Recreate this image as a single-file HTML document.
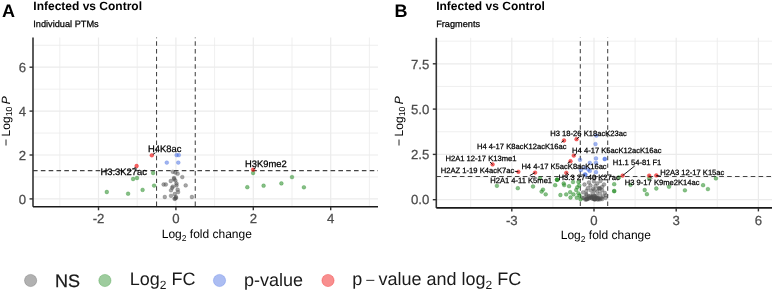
<!DOCTYPE html>
<html><head><meta charset="utf-8"><style>
html,body{margin:0;padding:0;background:#fff;width:774px;height:293px;overflow:hidden}
svg{display:block;will-change:transform;text-rendering:geometricPrecision;font-family:"Liberation Sans", sans-serif}
</style></head><body>
<svg width="774" height="293" viewBox="0 0 774 293" font-family='"Liberation Sans", sans-serif'>
<rect width="774" height="293" fill="#fff"/>
<line x1="59.8" y1="37.5" x2="59.8" y2="206.8" stroke="#ebebeb" stroke-width="0.8"/>
<line x1="137.2" y1="37.5" x2="137.2" y2="206.8" stroke="#ebebeb" stroke-width="0.8"/>
<line x1="214.60000000000002" y1="37.5" x2="214.60000000000002" y2="206.8" stroke="#ebebeb" stroke-width="0.8"/>
<line x1="292.0" y1="37.5" x2="292.0" y2="206.8" stroke="#ebebeb" stroke-width="0.8"/>
<line x1="369.4" y1="37.5" x2="369.4" y2="206.8" stroke="#ebebeb" stroke-width="0.8"/>
<line x1="33" y1="176.95000000000002" x2="378" y2="176.95000000000002" stroke="#ebebeb" stroke-width="0.8"/>
<line x1="33" y1="133.05" x2="378" y2="133.05" stroke="#ebebeb" stroke-width="0.8"/>
<line x1="33" y1="89.15" x2="378" y2="89.15" stroke="#ebebeb" stroke-width="0.8"/>
<line x1="33" y1="45.25" x2="378" y2="45.25" stroke="#ebebeb" stroke-width="0.8"/>
<line x1="98.5" y1="37.5" x2="98.5" y2="206.8" stroke="#ebebeb" stroke-width="1.2"/>
<line x1="175.9" y1="37.5" x2="175.9" y2="206.8" stroke="#ebebeb" stroke-width="1.2"/>
<line x1="253.3" y1="37.5" x2="253.3" y2="206.8" stroke="#ebebeb" stroke-width="1.2"/>
<line x1="330.70000000000005" y1="37.5" x2="330.70000000000005" y2="206.8" stroke="#ebebeb" stroke-width="1.2"/>
<line x1="33" y1="198.9" x2="378" y2="198.9" stroke="#ebebeb" stroke-width="1.2"/>
<line x1="33" y1="155.0" x2="378" y2="155.0" stroke="#ebebeb" stroke-width="1.2"/>
<line x1="33" y1="111.10000000000001" x2="378" y2="111.10000000000001" stroke="#ebebeb" stroke-width="1.2"/>
<line x1="33" y1="67.20000000000002" x2="378" y2="67.20000000000002" stroke="#ebebeb" stroke-width="1.2"/>
<line x1="33" y1="170.64239150000003" x2="378" y2="170.64239150000003" stroke="#444" stroke-width="1.05" stroke-dasharray="4.6 3.23"/>
<line x1="156.55" y1="206.8" x2="156.55" y2="37.5" stroke="#444" stroke-width="1.05" stroke-dasharray="4.4 3.23" stroke-dashoffset="-0.8"/>
<line x1="195.25" y1="206.8" x2="195.25" y2="37.5" stroke="#444" stroke-width="1.05" stroke-dasharray="4.4 3.23" stroke-dashoffset="-0.8"/>
<circle cx="172.8" cy="171.8" r="1.9000000000000001" fill="rgba(77,77,77,0.5)" stroke="rgba(77,77,77,0.5)" stroke-width="0.5"/>
<circle cx="175.3" cy="172.5" r="1.9000000000000001" fill="rgba(77,77,77,0.5)" stroke="rgba(77,77,77,0.5)" stroke-width="0.5"/>
<circle cx="177.7" cy="173.7" r="1.9000000000000001" fill="rgba(77,77,77,0.5)" stroke="rgba(77,77,77,0.5)" stroke-width="0.5"/>
<circle cx="182.3" cy="177.1" r="1.9000000000000001" fill="rgba(77,77,77,0.5)" stroke="rgba(77,77,77,0.5)" stroke-width="0.5"/>
<circle cx="174" cy="178" r="1.9000000000000001" fill="rgba(77,77,77,0.5)" stroke="rgba(77,77,77,0.5)" stroke-width="0.5"/>
<circle cx="175.3" cy="180.4" r="1.9000000000000001" fill="rgba(77,77,77,0.5)" stroke="rgba(77,77,77,0.5)" stroke-width="0.5"/>
<circle cx="170.7" cy="181" r="1.9000000000000001" fill="rgba(77,77,77,0.5)" stroke="rgba(77,77,77,0.5)" stroke-width="0.5"/>
<circle cx="176.5" cy="183.5" r="1.9000000000000001" fill="rgba(77,77,77,0.5)" stroke="rgba(77,77,77,0.5)" stroke-width="0.5"/>
<circle cx="163.6" cy="184.5" r="1.9000000000000001" fill="rgba(77,77,77,0.5)" stroke="rgba(77,77,77,0.5)" stroke-width="0.5"/>
<circle cx="165.8" cy="184.5" r="1.9000000000000001" fill="rgba(77,77,77,0.5)" stroke="rgba(77,77,77,0.5)" stroke-width="0.5"/>
<circle cx="185.7" cy="185.4" r="1.9000000000000001" fill="rgba(77,77,77,0.5)" stroke="rgba(77,77,77,0.5)" stroke-width="0.5"/>
<circle cx="172.8" cy="186.6" r="1.9000000000000001" fill="rgba(77,77,77,0.5)" stroke="rgba(77,77,77,0.5)" stroke-width="0.5"/>
<circle cx="176.5" cy="185.4" r="1.9000000000000001" fill="rgba(77,77,77,0.5)" stroke="rgba(77,77,77,0.5)" stroke-width="0.5"/>
<circle cx="177.7" cy="189.7" r="1.9000000000000001" fill="rgba(77,77,77,0.5)" stroke="rgba(77,77,77,0.5)" stroke-width="0.5"/>
<circle cx="171" cy="190.3" r="1.9000000000000001" fill="rgba(77,77,77,0.5)" stroke="rgba(77,77,77,0.5)" stroke-width="0.5"/>
<circle cx="178.1" cy="192.1" r="1.9000000000000001" fill="rgba(77,77,77,0.5)" stroke="rgba(77,77,77,0.5)" stroke-width="0.5"/>
<circle cx="174.7" cy="194" r="1.9000000000000001" fill="rgba(77,77,77,0.5)" stroke="rgba(77,77,77,0.5)" stroke-width="0.5"/>
<circle cx="164.8" cy="197" r="1.9000000000000001" fill="rgba(77,77,77,0.5)" stroke="rgba(77,77,77,0.5)" stroke-width="0.5"/>
<circle cx="171" cy="195.8" r="1.9000000000000001" fill="rgba(77,77,77,0.5)" stroke="rgba(77,77,77,0.5)" stroke-width="0.5"/>
<circle cx="175.9" cy="197" r="1.9000000000000001" fill="rgba(77,77,77,0.5)" stroke="rgba(77,77,77,0.5)" stroke-width="0.5"/>
<circle cx="175.3" cy="198.5" r="1.9000000000000001" fill="rgba(77,77,77,0.5)" stroke="rgba(77,77,77,0.5)" stroke-width="0.5"/>
<circle cx="191.9" cy="197" r="1.9000000000000001" fill="rgba(77,77,77,0.5)" stroke="rgba(77,77,77,0.5)" stroke-width="0.5"/>
<circle cx="172.2" cy="187.8" r="1.9000000000000001" fill="rgba(77,77,77,0.5)" stroke="rgba(77,77,77,0.5)" stroke-width="0.5"/>
<circle cx="174" cy="179" r="1.9000000000000001" fill="rgba(77,77,77,0.5)" stroke="rgba(77,77,77,0.5)" stroke-width="0.5"/>
<circle cx="176" cy="197.8" r="1.9000000000000001" fill="rgba(77,77,77,0.5)" stroke="rgba(77,77,77,0.5)" stroke-width="0.5"/>
<circle cx="174.5" cy="198.8" r="1.9000000000000001" fill="rgba(77,77,77,0.5)" stroke="rgba(77,77,77,0.5)" stroke-width="0.5"/>
<circle cx="106.8" cy="192" r="1.9000000000000001" fill="rgba(34,139,34,0.55)" stroke="rgba(34,139,34,0.55)" stroke-width="0.5"/>
<circle cx="128.1" cy="193.7" r="1.9000000000000001" fill="rgba(34,139,34,0.55)" stroke="rgba(34,139,34,0.55)" stroke-width="0.5"/>
<circle cx="133.1" cy="179" r="1.9000000000000001" fill="rgba(34,139,34,0.55)" stroke="rgba(34,139,34,0.55)" stroke-width="0.5"/>
<circle cx="137" cy="178" r="1.9000000000000001" fill="rgba(34,139,34,0.55)" stroke="rgba(34,139,34,0.55)" stroke-width="0.5"/>
<circle cx="142.6" cy="189.9" r="1.9000000000000001" fill="rgba(34,139,34,0.55)" stroke="rgba(34,139,34,0.55)" stroke-width="0.5"/>
<circle cx="153.1" cy="173" r="1.9000000000000001" fill="rgba(34,139,34,0.55)" stroke="rgba(34,139,34,0.55)" stroke-width="0.5"/>
<circle cx="154.1" cy="185.6" r="1.9000000000000001" fill="rgba(34,139,34,0.55)" stroke="rgba(34,139,34,0.55)" stroke-width="0.5"/>
<circle cx="253.1" cy="173" r="1.9000000000000001" fill="rgba(34,139,34,0.55)" stroke="rgba(34,139,34,0.55)" stroke-width="0.5"/>
<circle cx="247.3" cy="187.2" r="1.9000000000000001" fill="rgba(34,139,34,0.55)" stroke="rgba(34,139,34,0.55)" stroke-width="0.5"/>
<circle cx="263.6" cy="185.7" r="1.9000000000000001" fill="rgba(34,139,34,0.55)" stroke="rgba(34,139,34,0.55)" stroke-width="0.5"/>
<circle cx="281.4" cy="183.4" r="1.9000000000000001" fill="rgba(34,139,34,0.55)" stroke="rgba(34,139,34,0.55)" stroke-width="0.5"/>
<circle cx="292" cy="177.1" r="1.9000000000000001" fill="rgba(34,139,34,0.55)" stroke="rgba(34,139,34,0.55)" stroke-width="0.5"/>
<circle cx="303.9" cy="187.3" r="1.9000000000000001" fill="rgba(34,139,34,0.55)" stroke="rgba(34,139,34,0.55)" stroke-width="0.5"/>
<circle cx="176.6" cy="155.1" r="1.9000000000000001" fill="rgba(65,105,225,0.5)" stroke="rgba(65,105,225,0.5)" stroke-width="0.5"/>
<circle cx="178.8" cy="155.1" r="1.9000000000000001" fill="rgba(65,105,225,0.5)" stroke="rgba(65,105,225,0.5)" stroke-width="0.5"/>
<circle cx="166.8" cy="162.6" r="1.9000000000000001" fill="rgba(65,105,225,0.5)" stroke="rgba(65,105,225,0.5)" stroke-width="0.5"/>
<circle cx="178.3" cy="162.6" r="1.9000000000000001" fill="rgba(65,105,225,0.5)" stroke="rgba(65,105,225,0.5)" stroke-width="0.5"/>
<circle cx="136.6" cy="166" r="1.9000000000000001" fill="rgba(238,0,0,0.6)" stroke="rgba(238,0,0,0.6)" stroke-width="0.5"/>
<circle cx="151.8" cy="155.3" r="1.9000000000000001" fill="rgba(238,0,0,0.6)" stroke="rgba(238,0,0,0.6)" stroke-width="0.5"/>
<circle cx="253.1" cy="169.7" r="1.9000000000000001" fill="rgba(238,0,0,0.6)" stroke="rgba(238,0,0,0.6)" stroke-width="0.5"/>
<line x1="33" y1="37.5" x2="33" y2="206.8" stroke="#333" stroke-width="1.6"/>
<line x1="33" y1="206.8" x2="378" y2="206.8" stroke="#1a1a1a" stroke-width="1.6"/>
<line x1="98.5" y1="206.8" x2="98.5" y2="210.3" stroke="#333" stroke-width="1.4"/>
<text x="98.5" y="223.4" font-size="13.2" fill="#4d4d4d" font-weight="normal" text-anchor="middle" stroke="#4d4d4d" stroke-width="0.25" >-2</text>
<line x1="175.9" y1="206.8" x2="175.9" y2="210.3" stroke="#333" stroke-width="1.4"/>
<text x="175.9" y="223.4" font-size="13.2" fill="#4d4d4d" font-weight="normal" text-anchor="middle" stroke="#4d4d4d" stroke-width="0.25" >0</text>
<line x1="253.3" y1="206.8" x2="253.3" y2="210.3" stroke="#333" stroke-width="1.4"/>
<text x="253.3" y="223.4" font-size="13.2" fill="#4d4d4d" font-weight="normal" text-anchor="middle" stroke="#4d4d4d" stroke-width="0.25" >2</text>
<line x1="330.70000000000005" y1="206.8" x2="330.70000000000005" y2="210.3" stroke="#333" stroke-width="1.4"/>
<text x="330.70000000000005" y="223.4" font-size="13.2" fill="#4d4d4d" font-weight="normal" text-anchor="middle" stroke="#4d4d4d" stroke-width="0.25" >4</text>
<line x1="29.5" y1="198.9" x2="33" y2="198.9" stroke="#333" stroke-width="1.4"/>
<text x="26" y="203.6" font-size="13.2" fill="#4d4d4d" font-weight="normal" text-anchor="end" stroke="#4d4d4d" stroke-width="0.25" >0</text>
<line x1="29.5" y1="155.0" x2="33" y2="155.0" stroke="#333" stroke-width="1.4"/>
<text x="26" y="159.7" font-size="13.2" fill="#4d4d4d" font-weight="normal" text-anchor="end" stroke="#4d4d4d" stroke-width="0.25" >2</text>
<line x1="29.5" y1="111.10000000000001" x2="33" y2="111.10000000000001" stroke="#333" stroke-width="1.4"/>
<text x="26" y="115.80000000000001" font-size="13.2" fill="#4d4d4d" font-weight="normal" text-anchor="end" stroke="#4d4d4d" stroke-width="0.25" >4</text>
<line x1="29.5" y1="67.20000000000002" x2="33" y2="67.20000000000002" stroke="#333" stroke-width="1.4"/>
<text x="26" y="71.90000000000002" font-size="13.2" fill="#4d4d4d" font-weight="normal" text-anchor="end" stroke="#4d4d4d" stroke-width="0.25" >6</text>
<text x="148.0" y="151.8" font-size="9.4" fill="#000" font-weight="normal" text-anchor="start" stroke="#000" stroke-width="0.25" >H4K8ac</text>
<line x1="152.9" y1="154.4" x2="155.4" y2="152.8" stroke="#000" stroke-width="0.9"/>
<text x="100.5" y="175.1" font-size="9.4" fill="#000" font-weight="normal" text-anchor="start" stroke="#000" stroke-width="0.25" >H3.3K27ac</text>
<line x1="135.5" y1="167" x2="133.5" y2="169" stroke="#000" stroke-width="0.9"/>
<text x="245.0" y="167.3" font-size="9.4" fill="#000" font-weight="normal" text-anchor="start" stroke="#000" stroke-width="0.25" >H3K9me2</text>
<line x1="253.5" y1="169" x2="256" y2="167.5" stroke="#000" stroke-width="0.9"/>
<text x="2" y="16.7" font-size="18" fill="#000" font-weight="bold" text-anchor="start" >A</text>
<text x="33.3" y="9.8" font-size="12" fill="#000" font-weight="bold" text-anchor="start" >Infected vs Control</text>
<text x="33.3" y="27" font-size="9.2" fill="#000" font-weight="normal" text-anchor="start" stroke="#000" stroke-width="0.25" >Individual PTMs</text>
<text x="206.8" y="238" font-size="12" text-anchor="middle" fill="#000">Log<tspan font-size="8.5" dy="3">2</tspan><tspan dy="-3"> fold change</tspan></text>
<text transform="translate(10.2,146) rotate(-90)" font-size="12" text-anchor="start" fill="#000">−<tspan dx="2.6">Log</tspan><tspan font-size="8.8" dy="2.2">10</tspan><tspan dy="-2.2" font-size="8"> </tspan><tspan font-style="italic">P</tspan></text>
<line x1="470.7" y1="37.8" x2="470.7" y2="207.9" stroke="#ebebeb" stroke-width="0.8"/>
<line x1="552.9" y1="37.8" x2="552.9" y2="207.9" stroke="#ebebeb" stroke-width="0.8"/>
<line x1="635.1" y1="37.8" x2="635.1" y2="207.9" stroke="#ebebeb" stroke-width="0.8"/>
<line x1="717.3" y1="37.8" x2="717.3" y2="207.9" stroke="#ebebeb" stroke-width="0.8"/>
<line x1="436.3" y1="177.04999999999998" x2="772" y2="177.04999999999998" stroke="#ebebeb" stroke-width="0.8"/>
<line x1="436.3" y1="131.75" x2="772" y2="131.75" stroke="#ebebeb" stroke-width="0.8"/>
<line x1="436.3" y1="86.44999999999999" x2="772" y2="86.44999999999999" stroke="#ebebeb" stroke-width="0.8"/>
<line x1="436.3" y1="41.14999999999998" x2="772" y2="41.14999999999998" stroke="#ebebeb" stroke-width="0.8"/>
<line x1="511.8" y1="37.8" x2="511.8" y2="207.9" stroke="#ebebeb" stroke-width="1.2"/>
<line x1="594.0" y1="37.8" x2="594.0" y2="207.9" stroke="#ebebeb" stroke-width="1.2"/>
<line x1="676.2" y1="37.8" x2="676.2" y2="207.9" stroke="#ebebeb" stroke-width="1.2"/>
<line x1="758.4" y1="37.8" x2="758.4" y2="207.9" stroke="#ebebeb" stroke-width="1.2"/>
<line x1="436.3" y1="199.7" x2="772" y2="199.7" stroke="#ebebeb" stroke-width="1.2"/>
<line x1="436.3" y1="154.39999999999998" x2="772" y2="154.39999999999998" stroke="#ebebeb" stroke-width="1.2"/>
<line x1="436.3" y1="109.09999999999998" x2="772" y2="109.09999999999998" stroke="#ebebeb" stroke-width="1.2"/>
<line x1="436.3" y1="63.79999999999998" x2="772" y2="63.79999999999998" stroke="#ebebeb" stroke-width="1.2"/>
<line x1="436.3" y1="176.4253364" x2="772" y2="176.4253364" stroke="#444" stroke-width="1.05" stroke-dasharray="4.6 3.26" stroke-dashoffset="0"/>
<line x1="580.3" y1="207.9" x2="580.3" y2="37.8" stroke="#444" stroke-width="1.05" stroke-dasharray="4.4 3.23" stroke-dashoffset="-1.97"/>
<line x1="607.7" y1="207.9" x2="607.7" y2="37.8" stroke="#444" stroke-width="1.05" stroke-dasharray="4.4 3.23" stroke-dashoffset="-1.97"/>
<circle cx="594.8" cy="177.5" r="1.9000000000000001" fill="rgba(77,77,77,0.5)" stroke="rgba(77,77,77,0.5)" stroke-width="0.5"/>
<circle cx="593.9" cy="181.4" r="1.9000000000000001" fill="rgba(77,77,77,0.5)" stroke="rgba(77,77,77,0.5)" stroke-width="0.5"/>
<circle cx="597.3" cy="183.4" r="1.9000000000000001" fill="rgba(77,77,77,0.5)" stroke="rgba(77,77,77,0.5)" stroke-width="0.5"/>
<circle cx="590.5" cy="185.5" r="1.9000000000000001" fill="rgba(77,77,77,0.5)" stroke="rgba(77,77,77,0.5)" stroke-width="0.5"/>
<circle cx="587.8" cy="188.2" r="1.9000000000000001" fill="rgba(77,77,77,0.5)" stroke="rgba(77,77,77,0.5)" stroke-width="0.5"/>
<circle cx="602.1" cy="186.9" r="1.9000000000000001" fill="rgba(77,77,77,0.5)" stroke="rgba(77,77,77,0.5)" stroke-width="0.5"/>
<circle cx="602.1" cy="190.3" r="1.9000000000000001" fill="rgba(77,77,77,0.5)" stroke="rgba(77,77,77,0.5)" stroke-width="0.5"/>
<circle cx="586.4" cy="191" r="1.9000000000000001" fill="rgba(77,77,77,0.5)" stroke="rgba(77,77,77,0.5)" stroke-width="0.5"/>
<circle cx="593.2" cy="188.9" r="1.9000000000000001" fill="rgba(77,77,77,0.5)" stroke="rgba(77,77,77,0.5)" stroke-width="0.5"/>
<circle cx="597.3" cy="191.6" r="1.9000000000000001" fill="rgba(77,77,77,0.5)" stroke="rgba(77,77,77,0.5)" stroke-width="0.5"/>
<circle cx="604.8" cy="193" r="1.9000000000000001" fill="rgba(77,77,77,0.5)" stroke="rgba(77,77,77,0.5)" stroke-width="0.5"/>
<circle cx="583.7" cy="197.8" r="1.9000000000000001" fill="rgba(77,77,77,0.5)" stroke="rgba(77,77,77,0.5)" stroke-width="0.5"/>
<circle cx="590.5" cy="195.7" r="1.9000000000000001" fill="rgba(77,77,77,0.5)" stroke="rgba(77,77,77,0.5)" stroke-width="0.5"/>
<circle cx="596.6" cy="195.7" r="1.9000000000000001" fill="rgba(77,77,77,0.5)" stroke="rgba(77,77,77,0.5)" stroke-width="0.5"/>
<circle cx="602.8" cy="196.4" r="1.9000000000000001" fill="rgba(77,77,77,0.5)" stroke="rgba(77,77,77,0.5)" stroke-width="0.5"/>
<circle cx="605.5" cy="197.8" r="1.9000000000000001" fill="rgba(77,77,77,0.5)" stroke="rgba(77,77,77,0.5)" stroke-width="0.5"/>
<circle cx="587.8" cy="198.5" r="1.9000000000000001" fill="rgba(77,77,77,0.5)" stroke="rgba(77,77,77,0.5)" stroke-width="0.5"/>
<circle cx="593.9" cy="199.2" r="1.9000000000000001" fill="rgba(77,77,77,0.5)" stroke="rgba(77,77,77,0.5)" stroke-width="0.5"/>
<circle cx="599.4" cy="198.5" r="1.9000000000000001" fill="rgba(77,77,77,0.5)" stroke="rgba(77,77,77,0.5)" stroke-width="0.5"/>
<circle cx="586.4" cy="194.4" r="1.9000000000000001" fill="rgba(77,77,77,0.5)" stroke="rgba(77,77,77,0.5)" stroke-width="0.5"/>
<circle cx="593.2" cy="193.7" r="1.9000000000000001" fill="rgba(77,77,77,0.5)" stroke="rgba(77,77,77,0.5)" stroke-width="0.5"/>
<circle cx="600" cy="193.7" r="1.9000000000000001" fill="rgba(77,77,77,0.5)" stroke="rgba(77,77,77,0.5)" stroke-width="0.5"/>
<circle cx="595.5" cy="186" r="1.9000000000000001" fill="rgba(77,77,77,0.5)" stroke="rgba(77,77,77,0.5)" stroke-width="0.5"/>
<circle cx="591" cy="190.5" r="1.9000000000000001" fill="rgba(77,77,77,0.5)" stroke="rgba(77,77,77,0.5)" stroke-width="0.5"/>
<circle cx="599" cy="188" r="1.9000000000000001" fill="rgba(77,77,77,0.5)" stroke="rgba(77,77,77,0.5)" stroke-width="0.5"/>
<circle cx="588.9" cy="182.5" r="1.9000000000000001" fill="rgba(77,77,77,0.5)" stroke="rgba(77,77,77,0.5)" stroke-width="0.5"/>
<circle cx="600.5" cy="181" r="1.9000000000000001" fill="rgba(77,77,77,0.5)" stroke="rgba(77,77,77,0.5)" stroke-width="0.5"/>
<circle cx="584.5" cy="184.5" r="1.9000000000000001" fill="rgba(77,77,77,0.5)" stroke="rgba(77,77,77,0.5)" stroke-width="0.5"/>
<circle cx="604" cy="184.5" r="1.9000000000000001" fill="rgba(77,77,77,0.5)" stroke="rgba(77,77,77,0.5)" stroke-width="0.5"/>
<circle cx="582.5" cy="197.8" r="1.9000000000000001" fill="rgba(77,77,77,0.5)" stroke="rgba(77,77,77,0.5)" stroke-width="0.5"/>
<circle cx="589.6" cy="197.7" r="1.9000000000000001" fill="rgba(77,77,77,0.5)" stroke="rgba(77,77,77,0.5)" stroke-width="0.5"/>
<circle cx="591.3" cy="197.5" r="1.9000000000000001" fill="rgba(77,77,77,0.5)" stroke="rgba(77,77,77,0.5)" stroke-width="0.5"/>
<circle cx="592.6" cy="197.4" r="1.9000000000000001" fill="rgba(77,77,77,0.5)" stroke="rgba(77,77,77,0.5)" stroke-width="0.5"/>
<circle cx="595.2" cy="196.6" r="1.9000000000000001" fill="rgba(77,77,77,0.5)" stroke="rgba(77,77,77,0.5)" stroke-width="0.5"/>
<circle cx="591.9" cy="198.5" r="1.9000000000000001" fill="rgba(77,77,77,0.5)" stroke="rgba(77,77,77,0.5)" stroke-width="0.5"/>
<circle cx="598.1" cy="199.3" r="1.9000000000000001" fill="rgba(77,77,77,0.5)" stroke="rgba(77,77,77,0.5)" stroke-width="0.5"/>
<circle cx="585.3" cy="199.5" r="1.9000000000000001" fill="rgba(77,77,77,0.5)" stroke="rgba(77,77,77,0.5)" stroke-width="0.5"/>
<circle cx="598.7" cy="188.6" r="1.9000000000000001" fill="rgba(77,77,77,0.5)" stroke="rgba(77,77,77,0.5)" stroke-width="0.5"/>
<circle cx="592.7" cy="196.7" r="1.9000000000000001" fill="rgba(77,77,77,0.5)" stroke="rgba(77,77,77,0.5)" stroke-width="0.5"/>
<circle cx="602.2" cy="199.1" r="1.9000000000000001" fill="rgba(77,77,77,0.5)" stroke="rgba(77,77,77,0.5)" stroke-width="0.5"/>
<circle cx="595.2" cy="199.4" r="1.9000000000000001" fill="rgba(77,77,77,0.5)" stroke="rgba(77,77,77,0.5)" stroke-width="0.5"/>
<circle cx="594.6" cy="199.0" r="1.9000000000000001" fill="rgba(77,77,77,0.5)" stroke="rgba(77,77,77,0.5)" stroke-width="0.5"/>
<circle cx="596.0" cy="197.7" r="1.9000000000000001" fill="rgba(77,77,77,0.5)" stroke="rgba(77,77,77,0.5)" stroke-width="0.5"/>
<circle cx="598.4" cy="197.9" r="1.9000000000000001" fill="rgba(77,77,77,0.5)" stroke="rgba(77,77,77,0.5)" stroke-width="0.5"/>
<circle cx="588.9" cy="196.5" r="1.9000000000000001" fill="rgba(77,77,77,0.5)" stroke="rgba(77,77,77,0.5)" stroke-width="0.5"/>
<circle cx="591.1" cy="197.5" r="1.9000000000000001" fill="rgba(77,77,77,0.5)" stroke="rgba(77,77,77,0.5)" stroke-width="0.5"/>
<circle cx="588.7" cy="198.6" r="1.9000000000000001" fill="rgba(77,77,77,0.5)" stroke="rgba(77,77,77,0.5)" stroke-width="0.5"/>
<circle cx="600.1" cy="188.6" r="1.9000000000000001" fill="rgba(77,77,77,0.5)" stroke="rgba(77,77,77,0.5)" stroke-width="0.5"/>
<circle cx="594.2" cy="195.9" r="1.9000000000000001" fill="rgba(77,77,77,0.5)" stroke="rgba(77,77,77,0.5)" stroke-width="0.5"/>
<circle cx="595.1" cy="198.5" r="1.9000000000000001" fill="rgba(77,77,77,0.5)" stroke="rgba(77,77,77,0.5)" stroke-width="0.5"/>
<circle cx="599.8" cy="199.4" r="1.9000000000000001" fill="rgba(77,77,77,0.5)" stroke="rgba(77,77,77,0.5)" stroke-width="0.5"/>
<circle cx="586.5" cy="195.2" r="1.9000000000000001" fill="rgba(77,77,77,0.5)" stroke="rgba(77,77,77,0.5)" stroke-width="0.5"/>
<circle cx="601.3" cy="198.1" r="1.9000000000000001" fill="rgba(77,77,77,0.5)" stroke="rgba(77,77,77,0.5)" stroke-width="0.5"/>
<circle cx="594.6" cy="190.1" r="1.9000000000000001" fill="rgba(77,77,77,0.5)" stroke="rgba(77,77,77,0.5)" stroke-width="0.5"/>
<circle cx="594.3" cy="198.9" r="1.9000000000000001" fill="rgba(77,77,77,0.5)" stroke="rgba(77,77,77,0.5)" stroke-width="0.5"/>
<circle cx="583.1" cy="192.4" r="1.9000000000000001" fill="rgba(77,77,77,0.5)" stroke="rgba(77,77,77,0.5)" stroke-width="0.5"/>
<circle cx="597.7" cy="198.1" r="1.9000000000000001" fill="rgba(77,77,77,0.5)" stroke="rgba(77,77,77,0.5)" stroke-width="0.5"/>
<circle cx="586.8" cy="199.4" r="1.9000000000000001" fill="rgba(77,77,77,0.5)" stroke="rgba(77,77,77,0.5)" stroke-width="0.5"/>
<circle cx="586.7" cy="198.7" r="1.9000000000000001" fill="rgba(77,77,77,0.5)" stroke="rgba(77,77,77,0.5)" stroke-width="0.5"/>
<circle cx="586.3" cy="199.3" r="1.9000000000000001" fill="rgba(77,77,77,0.5)" stroke="rgba(77,77,77,0.5)" stroke-width="0.5"/>
<circle cx="606.0" cy="195.3" r="1.9000000000000001" fill="rgba(77,77,77,0.5)" stroke="rgba(77,77,77,0.5)" stroke-width="0.5"/>
<circle cx="594.6" cy="199.2" r="1.9000000000000001" fill="rgba(77,77,77,0.5)" stroke="rgba(77,77,77,0.5)" stroke-width="0.5"/>
<circle cx="597.5" cy="199.4" r="1.9000000000000001" fill="rgba(77,77,77,0.5)" stroke="rgba(77,77,77,0.5)" stroke-width="0.5"/>
<circle cx="496.9" cy="185.8" r="1.9000000000000001" fill="rgba(34,139,34,0.55)" stroke="rgba(34,139,34,0.55)" stroke-width="0.5"/>
<circle cx="517.8" cy="188.2" r="1.9000000000000001" fill="rgba(34,139,34,0.55)" stroke="rgba(34,139,34,0.55)" stroke-width="0.5"/>
<circle cx="533" cy="186.5" r="1.9000000000000001" fill="rgba(34,139,34,0.55)" stroke="rgba(34,139,34,0.55)" stroke-width="0.5"/>
<circle cx="540" cy="178.4" r="1.9000000000000001" fill="rgba(34,139,34,0.55)" stroke="rgba(34,139,34,0.55)" stroke-width="0.5"/>
<circle cx="543" cy="189.6" r="1.9000000000000001" fill="rgba(34,139,34,0.55)" stroke="rgba(34,139,34,0.55)" stroke-width="0.5"/>
<circle cx="541.6" cy="191.6" r="1.9000000000000001" fill="rgba(34,139,34,0.55)" stroke="rgba(34,139,34,0.55)" stroke-width="0.5"/>
<circle cx="545.7" cy="194.3" r="1.9000000000000001" fill="rgba(34,139,34,0.55)" stroke="rgba(34,139,34,0.55)" stroke-width="0.5"/>
<circle cx="557.1" cy="179.7" r="1.9000000000000001" fill="rgba(34,139,34,0.55)" stroke="rgba(34,139,34,0.55)" stroke-width="0.5"/>
<circle cx="557.1" cy="179.7" r="1.9000000000000001" fill="rgba(34,139,34,0.55)" stroke="rgba(34,139,34,0.55)" stroke-width="0.5"/>
<circle cx="557.1" cy="179.7" r="1.9000000000000001" fill="rgba(34,139,34,0.55)" stroke="rgba(34,139,34,0.55)" stroke-width="0.5"/>
<circle cx="563.7" cy="183.5" r="1.9000000000000001" fill="rgba(34,139,34,0.55)" stroke="rgba(34,139,34,0.55)" stroke-width="0.5"/>
<circle cx="564.2" cy="185.1" r="1.9000000000000001" fill="rgba(34,139,34,0.55)" stroke="rgba(34,139,34,0.55)" stroke-width="0.5"/>
<circle cx="569.1" cy="186.2" r="1.9000000000000001" fill="rgba(34,139,34,0.55)" stroke="rgba(34,139,34,0.55)" stroke-width="0.5"/>
<circle cx="573" cy="182" r="1.9000000000000001" fill="rgba(34,139,34,0.55)" stroke="rgba(34,139,34,0.55)" stroke-width="0.5"/>
<circle cx="578.4" cy="182" r="1.9000000000000001" fill="rgba(34,139,34,0.55)" stroke="rgba(34,139,34,0.55)" stroke-width="0.5"/>
<circle cx="577.3" cy="187.3" r="1.9000000000000001" fill="rgba(34,139,34,0.55)" stroke="rgba(34,139,34,0.55)" stroke-width="0.5"/>
<circle cx="576.2" cy="190" r="1.9000000000000001" fill="rgba(34,139,34,0.55)" stroke="rgba(34,139,34,0.55)" stroke-width="0.5"/>
<circle cx="570.2" cy="192.2" r="1.9000000000000001" fill="rgba(34,139,34,0.55)" stroke="rgba(34,139,34,0.55)" stroke-width="0.5"/>
<circle cx="573.5" cy="194.4" r="1.9000000000000001" fill="rgba(34,139,34,0.55)" stroke="rgba(34,139,34,0.55)" stroke-width="0.5"/>
<circle cx="578.4" cy="193.3" r="1.9000000000000001" fill="rgba(34,139,34,0.55)" stroke="rgba(34,139,34,0.55)" stroke-width="0.5"/>
<circle cx="579.5" cy="195.5" r="1.9000000000000001" fill="rgba(34,139,34,0.55)" stroke="rgba(34,139,34,0.55)" stroke-width="0.5"/>
<circle cx="576.8" cy="197.7" r="1.9000000000000001" fill="rgba(34,139,34,0.55)" stroke="rgba(34,139,34,0.55)" stroke-width="0.5"/>
<circle cx="560.4" cy="195" r="1.9000000000000001" fill="rgba(34,139,34,0.55)" stroke="rgba(34,139,34,0.55)" stroke-width="0.5"/>
<circle cx="566.2" cy="194.4" r="1.9000000000000001" fill="rgba(34,139,34,0.55)" stroke="rgba(34,139,34,0.55)" stroke-width="0.5"/>
<circle cx="555.2" cy="185.2" r="1.9000000000000001" fill="rgba(34,139,34,0.55)" stroke="rgba(34,139,34,0.55)" stroke-width="0.5"/>
<circle cx="570.5" cy="197.5" r="1.9000000000000001" fill="rgba(34,139,34,0.55)" stroke="rgba(34,139,34,0.55)" stroke-width="0.5"/>
<circle cx="580.6" cy="199.3" r="1.9000000000000001" fill="rgba(34,139,34,0.55)" stroke="rgba(34,139,34,0.55)" stroke-width="0.5"/>
<circle cx="579.2" cy="185.5" r="1.9000000000000001" fill="rgba(34,139,34,0.55)" stroke="rgba(34,139,34,0.55)" stroke-width="0.5"/>
<circle cx="618.9" cy="177.5" r="1.9000000000000001" fill="rgba(34,139,34,0.55)" stroke="rgba(34,139,34,0.55)" stroke-width="0.5"/>
<circle cx="614.2" cy="184.2" r="1.9000000000000001" fill="rgba(34,139,34,0.55)" stroke="rgba(34,139,34,0.55)" stroke-width="0.5"/>
<circle cx="614.2" cy="191.1" r="1.9000000000000001" fill="rgba(34,139,34,0.55)" stroke="rgba(34,139,34,0.55)" stroke-width="0.5"/>
<circle cx="614.2" cy="191.1" r="1.9000000000000001" fill="rgba(34,139,34,0.55)" stroke="rgba(34,139,34,0.55)" stroke-width="0.5"/>
<circle cx="630.5" cy="184.8" r="1.9000000000000001" fill="rgba(34,139,34,0.55)" stroke="rgba(34,139,34,0.55)" stroke-width="0.5"/>
<circle cx="649.2" cy="178.4" r="1.9000000000000001" fill="rgba(34,139,34,0.55)" stroke="rgba(34,139,34,0.55)" stroke-width="0.5"/>
<circle cx="644.7" cy="190" r="1.9000000000000001" fill="rgba(34,139,34,0.55)" stroke="rgba(34,139,34,0.55)" stroke-width="0.5"/>
<circle cx="646.9" cy="194.2" r="1.9000000000000001" fill="rgba(34,139,34,0.55)" stroke="rgba(34,139,34,0.55)" stroke-width="0.5"/>
<circle cx="656.3" cy="188.5" r="1.9000000000000001" fill="rgba(34,139,34,0.55)" stroke="rgba(34,139,34,0.55)" stroke-width="0.5"/>
<circle cx="669" cy="186.7" r="1.9000000000000001" fill="rgba(34,139,34,0.55)" stroke="rgba(34,139,34,0.55)" stroke-width="0.5"/>
<circle cx="684.9" cy="190.3" r="1.9000000000000001" fill="rgba(34,139,34,0.55)" stroke="rgba(34,139,34,0.55)" stroke-width="0.5"/>
<circle cx="703.1" cy="185.2" r="1.9000000000000001" fill="rgba(34,139,34,0.55)" stroke="rgba(34,139,34,0.55)" stroke-width="0.5"/>
<circle cx="707.9" cy="189.1" r="1.9000000000000001" fill="rgba(34,139,34,0.55)" stroke="rgba(34,139,34,0.55)" stroke-width="0.5"/>
<circle cx="715.9" cy="178.4" r="1.9000000000000001" fill="rgba(34,139,34,0.55)" stroke="rgba(34,139,34,0.55)" stroke-width="0.5"/>
<circle cx="596.3" cy="135.6" r="1.9000000000000001" fill="rgba(65,105,225,0.5)" stroke="rgba(65,105,225,0.5)" stroke-width="0.5"/>
<circle cx="595.5" cy="144.1" r="1.9000000000000001" fill="rgba(65,105,225,0.5)" stroke="rgba(65,105,225,0.5)" stroke-width="0.5"/>
<circle cx="596" cy="158.4" r="1.9000000000000001" fill="rgba(65,105,225,0.5)" stroke="rgba(65,105,225,0.5)" stroke-width="0.5"/>
<circle cx="604.8" cy="158.9" r="1.9000000000000001" fill="rgba(65,105,225,0.5)" stroke="rgba(65,105,225,0.5)" stroke-width="0.5"/>
<circle cx="580" cy="159.8" r="1.9000000000000001" fill="rgba(65,105,225,0.5)" stroke="rgba(65,105,225,0.5)" stroke-width="0.5"/>
<circle cx="589.8" cy="162.9" r="1.9000000000000001" fill="rgba(65,105,225,0.5)" stroke="rgba(65,105,225,0.5)" stroke-width="0.5"/>
<circle cx="596" cy="162.9" r="1.9000000000000001" fill="rgba(65,105,225,0.5)" stroke="rgba(65,105,225,0.5)" stroke-width="0.5"/>
<circle cx="580.9" cy="170" r="1.9000000000000001" fill="rgba(65,105,225,0.5)" stroke="rgba(65,105,225,0.5)" stroke-width="0.5"/>
<circle cx="584.9" cy="167.8" r="1.9000000000000001" fill="rgba(65,105,225,0.5)" stroke="rgba(65,105,225,0.5)" stroke-width="0.5"/>
<circle cx="588.4" cy="169.5" r="1.9000000000000001" fill="rgba(65,105,225,0.5)" stroke="rgba(65,105,225,0.5)" stroke-width="0.5"/>
<circle cx="589.8" cy="170.9" r="1.9000000000000001" fill="rgba(65,105,225,0.5)" stroke="rgba(65,105,225,0.5)" stroke-width="0.5"/>
<circle cx="596" cy="172.2" r="1.9000000000000001" fill="rgba(65,105,225,0.5)" stroke="rgba(65,105,225,0.5)" stroke-width="0.5"/>
<circle cx="584.9" cy="174.4" r="1.9000000000000001" fill="rgba(65,105,225,0.5)" stroke="rgba(65,105,225,0.5)" stroke-width="0.5"/>
<circle cx="604.7" cy="159.1" r="1.9000000000000001" fill="rgba(65,105,225,0.5)" stroke="rgba(65,105,225,0.5)" stroke-width="0.5"/>
<circle cx="585.5" cy="174.7" r="1.9000000000000001" fill="rgba(65,105,225,0.5)" stroke="rgba(65,105,225,0.5)" stroke-width="0.5"/>
<circle cx="492.6" cy="164.4" r="1.9000000000000001" fill="rgba(238,0,0,0.6)" stroke="rgba(238,0,0,0.6)" stroke-width="0.5"/>
<circle cx="518.4" cy="171.8" r="1.9000000000000001" fill="rgba(238,0,0,0.6)" stroke="rgba(238,0,0,0.6)" stroke-width="0.5"/>
<circle cx="535.1" cy="172.6" r="1.9000000000000001" fill="rgba(238,0,0,0.6)" stroke="rgba(238,0,0,0.6)" stroke-width="0.5"/>
<circle cx="564" cy="140.5" r="1.9000000000000001" fill="rgba(238,0,0,0.6)" stroke="rgba(238,0,0,0.6)" stroke-width="0.5"/>
<circle cx="576.5" cy="139.2" r="1.9000000000000001" fill="rgba(238,0,0,0.6)" stroke="rgba(238,0,0,0.6)" stroke-width="0.5"/>
<circle cx="573.8" cy="155.6" r="1.9000000000000001" fill="rgba(238,0,0,0.6)" stroke="rgba(238,0,0,0.6)" stroke-width="0.5"/>
<circle cx="570.5" cy="161.2" r="1.9000000000000001" fill="rgba(238,0,0,0.6)" stroke="rgba(238,0,0,0.6)" stroke-width="0.5"/>
<circle cx="566.3" cy="172.8" r="1.9000000000000001" fill="rgba(238,0,0,0.6)" stroke="rgba(238,0,0,0.6)" stroke-width="0.5"/>
<circle cx="622.6" cy="175.6" r="1.9000000000000001" fill="rgba(238,0,0,0.6)" stroke="rgba(238,0,0,0.6)" stroke-width="0.5"/>
<circle cx="649.2" cy="175.6" r="1.9000000000000001" fill="rgba(238,0,0,0.6)" stroke="rgba(238,0,0,0.6)" stroke-width="0.5"/>
<circle cx="656.3" cy="175.4" r="1.9000000000000001" fill="rgba(238,0,0,0.6)" stroke="rgba(238,0,0,0.6)" stroke-width="0.5"/>
<line x1="436.3" y1="37.8" x2="436.3" y2="207.9" stroke="#333" stroke-width="1.6"/>
<line x1="436.3" y1="207.9" x2="772" y2="207.9" stroke="#1a1a1a" stroke-width="1.6"/>
<line x1="511.8" y1="207.9" x2="511.8" y2="211.4" stroke="#333" stroke-width="1.4"/>
<text x="511.8" y="224.5" font-size="13.2" fill="#4d4d4d" font-weight="normal" text-anchor="middle" stroke="#4d4d4d" stroke-width="0.25" >-3</text>
<line x1="594.0" y1="207.9" x2="594.0" y2="211.4" stroke="#333" stroke-width="1.4"/>
<text x="594.0" y="224.5" font-size="13.2" fill="#4d4d4d" font-weight="normal" text-anchor="middle" stroke="#4d4d4d" stroke-width="0.25" >0</text>
<line x1="676.2" y1="207.9" x2="676.2" y2="211.4" stroke="#333" stroke-width="1.4"/>
<text x="676.2" y="224.5" font-size="13.2" fill="#4d4d4d" font-weight="normal" text-anchor="middle" stroke="#4d4d4d" stroke-width="0.25" >3</text>
<line x1="758.4" y1="207.9" x2="758.4" y2="211.4" stroke="#333" stroke-width="1.4"/>
<text x="758.4" y="224.5" font-size="13.2" fill="#4d4d4d" font-weight="normal" text-anchor="middle" stroke="#4d4d4d" stroke-width="0.25" >6</text>
<line x1="432.8" y1="199.7" x2="436.3" y2="199.7" stroke="#333" stroke-width="1.4"/>
<text x="429.3" y="204.39999999999998" font-size="13.2" fill="#4d4d4d" font-weight="normal" text-anchor="end" stroke="#4d4d4d" stroke-width="0.25" >0.0</text>
<line x1="432.8" y1="154.39999999999998" x2="436.3" y2="154.39999999999998" stroke="#333" stroke-width="1.4"/>
<text x="429.3" y="159.09999999999997" font-size="13.2" fill="#4d4d4d" font-weight="normal" text-anchor="end" stroke="#4d4d4d" stroke-width="0.25" >2.5</text>
<line x1="432.8" y1="109.09999999999998" x2="436.3" y2="109.09999999999998" stroke="#333" stroke-width="1.4"/>
<text x="429.3" y="113.79999999999998" font-size="13.2" fill="#4d4d4d" font-weight="normal" text-anchor="end" stroke="#4d4d4d" stroke-width="0.25" >5.0</text>
<line x1="432.8" y1="63.79999999999998" x2="436.3" y2="63.79999999999998" stroke="#333" stroke-width="1.4"/>
<text x="429.3" y="68.49999999999999" font-size="13.2" fill="#4d4d4d" font-weight="normal" text-anchor="end" stroke="#4d4d4d" stroke-width="0.25" >7.5</text>
<text x="550.3" y="136" font-size="7.6" fill="#000" font-weight="normal" text-anchor="start" stroke="#000" stroke-width="0.25" >H3 18-26 K18acK23ac</text>
<text x="477" y="149.1" font-size="7.6" fill="#000" font-weight="normal" text-anchor="start" stroke="#000" stroke-width="0.25" >H4 4-17 K8acK12acK16ac</text>
<text x="572.1" y="152.9" font-size="7.6" fill="#000" font-weight="normal" text-anchor="start" stroke="#000" stroke-width="0.25" >H4 4-17 K5acK12acK16ac</text>
<text x="445.5" y="160.6" font-size="7.6" fill="#000" font-weight="normal" text-anchor="start" stroke="#000" stroke-width="0.25" >H2A1 12-17 K13me1</text>
<text x="612.8" y="164.5" font-size="7.6" fill="#000" font-weight="normal" text-anchor="start" stroke="#000" stroke-width="0.25" >H1.1 54-81 F1</text>
<text x="521.4" y="168.9" font-size="7.6" fill="#000" font-weight="normal" text-anchor="start" stroke="#000" stroke-width="0.25" >H4 4-17 K5acK8acK16ac</text>
<text x="440.8" y="172.5" font-size="7.6" fill="#000" font-weight="normal" text-anchor="start" stroke="#000" stroke-width="0.25" >H2AZ 1-19 K4acK7ac</text>
<text x="558.6" y="180.3" font-size="7.6" fill="#000" font-weight="normal" text-anchor="start" stroke="#000" stroke-width="0.25" >H3.3 27-40 K27ac</text>
<text x="490.2" y="182.5" font-size="7.6" fill="#000" font-weight="normal" text-anchor="start" stroke="#000" stroke-width="0.25" >H2A1 4-11 K5me1</text>
<text x="660.2" y="175.0" font-size="7.6" fill="#000" font-weight="normal" text-anchor="start" stroke="#000" stroke-width="0.25" >H2A3 12-17 K15ac</text>
<text x="624.8" y="185.4" font-size="7.6" fill="#000" font-weight="normal" text-anchor="start" stroke="#000" stroke-width="0.25" >H3 9-17 K9me2K14ac</text>
<line x1="564" y1="140.5" x2="561.3" y2="142.4" stroke="#000" stroke-width="0.9"/>
<line x1="576.5" y1="139.2" x2="579" y2="137" stroke="#000" stroke-width="0.9"/>
<line x1="573.8" y1="155.6" x2="576.5" y2="153.5" stroke="#000" stroke-width="0.9"/>
<line x1="492.6" y1="164.4" x2="490" y2="162" stroke="#000" stroke-width="0.9"/>
<line x1="570.5" y1="161.2" x2="567.6" y2="163.3" stroke="#000" stroke-width="0.9"/>
<line x1="566.3" y1="172.8" x2="569" y2="175" stroke="#000" stroke-width="0.9"/>
<line x1="622.6" y1="175.6" x2="634.7" y2="166" stroke="#000" stroke-width="0.9"/>
<line x1="656.3" y1="175.4" x2="661" y2="176.3" stroke="#000" stroke-width="0.9"/>
<line x1="649.2" y1="175.6" x2="652" y2="178.5" stroke="#000" stroke-width="0.9"/>
<line x1="535.1" y1="172.6" x2="529.8" y2="175.5" stroke="#000" stroke-width="0.9"/>
<line x1="518.4" y1="171.8" x2="514.8" y2="171.3" stroke="#000" stroke-width="0.9"/>
<text x="394.4" y="16.7" font-size="18" fill="#000" font-weight="bold" text-anchor="start" >B</text>
<text x="436.2" y="9.8" font-size="12" fill="#000" font-weight="bold" text-anchor="start" >Infected vs Control</text>
<text x="436.2" y="27" font-size="9.2" fill="#000" font-weight="normal" text-anchor="start" stroke="#000" stroke-width="0.25" >Fragments</text>
<text x="605.8499999999999" y="238.5" font-size="12" text-anchor="middle" fill="#000">Log<tspan font-size="8.5" dy="3">2</tspan><tspan dy="-3"> fold change</tspan></text>
<text transform="translate(403.2,146) rotate(-90)" font-size="12" text-anchor="start" fill="#000">−<tspan dx="2.6">Log</tspan><tspan font-size="8.8" dy="2.2">10</tspan><tspan dy="-2.2" font-size="8"> </tspan><tspan font-style="italic">P</tspan></text>
<circle cx="30.6" cy="280.5" r="6.1" fill="rgba(77,77,77,0.44)" stroke="rgba(77,77,77,0.3)" stroke-width="1"/>
<circle cx="104.9" cy="280.5" r="6.1" fill="rgba(34,139,34,0.44)" stroke="rgba(34,139,34,0.3)" stroke-width="1"/>
<circle cx="219.5" cy="280.5" r="6.1" fill="rgba(65,105,225,0.44)" stroke="rgba(65,105,225,0.3)" stroke-width="1"/>
<circle cx="328" cy="280.5" r="6.1" fill="rgba(238,0,0,0.44)" stroke="rgba(238,0,0,0.3)" stroke-width="1"/>
<text x="55" y="286.6" font-size="18" fill="#1a1a1a" font-weight="normal" text-anchor="start" stroke="#1a1a1a" stroke-width="0.25" >NS</text>
<text x="129.8" y="285.2" font-size="18" fill="#1a1a1a">Log<tspan font-size="12" dy="3.5">2</tspan><tspan dy="-3.5" font-size="18"> FC</tspan></text>
<text x="244" y="286.4" font-size="18" fill="#1a1a1a">p-value</text>
<text x="352.3" y="285" font-size="18" fill="#1a1a1a">p<tspan font-size="14.5" dy="-0.8"> – </tspan><tspan dy="0.8">value and log<tspan font-size="12" dy="3.5">2</tspan><tspan dy="-3.5" font-size="18"> FC</tspan></tspan></text>
</svg>
</body></html>
